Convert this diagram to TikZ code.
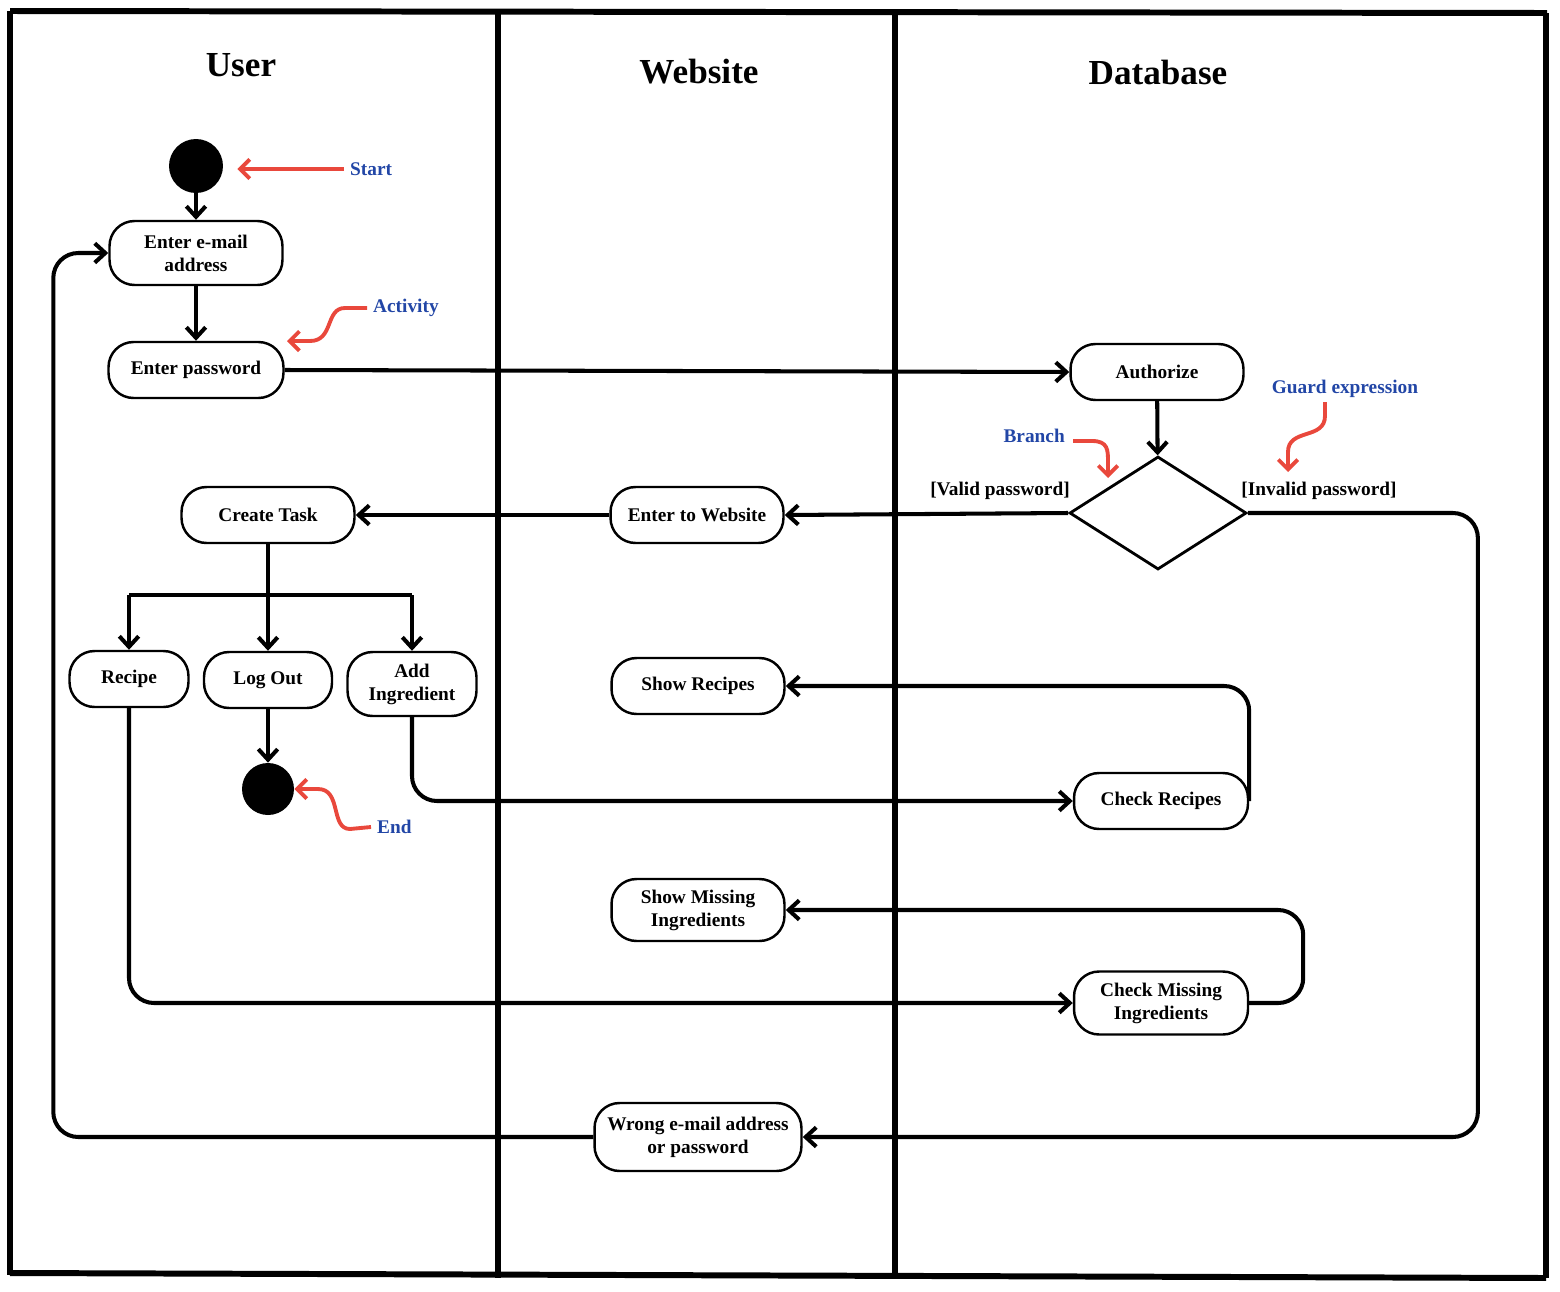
\documentclass[tikz,border=0pt]{standalone}
\usepackage{fontspec}
\setmainfont{Liberation Serif}
\usepackage{xcolor}
\usetikzlibrary{shapes,arrows.meta,positioning,calc}
\definecolor{noteRed}{HTML}{E9483C}
\definecolor{noteBlue}{HTML}{2246A6}

\begin{document}
\begin{tikzpicture}[x=0.02cm, y=-0.02cm,
  act/.style={draw, line width=1.4pt, rounded corners=0.5cm, minimum height=1.12cm,
    align=center, inner sep=2pt, font=\bfseries\fontsize{11}{13}\selectfont},
  flow/.style={line width=2.3pt, rounded corners=0.5cm,
    -{Straight Barb[length=6pt,width=11pt]}},
  note/.style={text=noteBlue, font=\bfseries\fontsize{11}{13}\selectfont},
  noteArrow/.style={draw=noteRed, line width=2.2pt,
    -{Straight Barb[length=5.5pt,width=11pt]}},
  guard/.style={font=\bfseries\fontsize{11}{13}\selectfont},
  lane/.style={line width=3.4pt},
  title/.style={font=\bfseries\fontsize{20}{24}\selectfont}]
\useasboundingbox (0,0) rectangle (1560,1292);

% Swimlanes
\draw[lane] (10,11) -- (1547,13);
\draw[lane] (10,11) -- (10,1275);
\draw[lane] (1546,13) -- (1546,1278);
\draw[lane] (10,1273) -- (1546,1278);
\draw[lane] (498,12) -- (498,1278);
\draw[lane] (895,12) -- (895,1278);
\node[title] (userT) at (241,65) {User};
\node[title] (webT) at (699,72) {Website};
\node[title] (dbT) at (1158,72) {Database};

% User lane
\node[circle, fill=black, minimum size=1.08cm, inner sep=0] (start) at (196,166) {};
\node[act, minimum width=3.46cm, minimum height=1.28cm] (email) at (196,253) {Enter e-mail\\address};
\node[act, minimum width=3.5cm] (pwd) at (196,370) {Enter password};
\node[act, minimum width=3.46cm] (task) at (268,515) {Create Task};
\coordinate (fork) at (268,595);
\node[act, minimum width=2.38cm] (recipe) at (129,679) {Recipe};
\node[act, minimum width=2.56cm] (logout) at (268,680) {Log Out};
\node[act, minimum width=2.58cm, minimum height=1.28cm] (addIng) at (412,684) {Add\\Ingredient};
\node[circle, fill=black, minimum size=1.04cm, inner sep=0] (end) at (268,789) {};

% Website lane
\node[act, minimum width=3.46cm] (enterWeb) at (697,515) {Enter to Website};
\node[act, minimum width=3.46cm] (showRec) at (698,686) {Show Recipes};
\node[act, minimum width=3.46cm, minimum height=1.24cm] (showMiss) at (698,910) {Show Missing\\Ingredients};
\node[act, minimum width=4.14cm, minimum height=1.36cm] (wrong) at (698,1137) {Wrong e-mail address\\or password};

% Database lane
\node[act, minimum width=3.46cm] (auth) at (1157,372) {Authorize};
\node[draw, diamond, line width=1.6pt, aspect=1.57, minimum width=3.54cm, minimum height=2.26cm, inner sep=0] (branch) at (1158,513) {};
\node[act, minimum width=3.48cm] (chkRec) at (1161,801) {Check Recipes};
\node[act, minimum width=3.48cm, minimum height=1.26cm] (chkMiss) at (1161,1003) {Check Missing\\Ingredients};

% Guards
\node[guard] (valid) at (1000,491) {[Valid password]};
\node[guard] (invalid) at (1319,491) {[Invalid password]};

% Flows
\draw[flow] (start) -- (email);
\draw[flow] (email) -- (pwd);
\draw[flow] (pwd.east) -- (auth.west);
\draw[flow] (auth) -- (branch);
\draw[flow] (branch.west) -- (enterWeb.east);
\draw[flow] (enterWeb.west) -- (task.east);
\draw[line width=2.3pt] (task) -- (fork);
\draw[line width=2.3pt] (recipe.north |- fork) -- (addIng.north |- fork);
\draw[flow] (recipe.north |- fork) -- (recipe);
\draw[flow] (fork) -- (logout);
\draw[flow] (addIng.north |- fork) -- (addIng);
\draw[flow] (logout) -- (end);
\draw[flow] (addIng.south) |- (chkRec.west);
\draw[flow] (chkRec.east) -- (chkRec.east |- showRec) -- (showRec.east);
\draw[flow] (recipe.south) |- (chkMiss.west);
\draw[flow] (chkMiss.east) -- ++(54,0) |- (showMiss.east);
\draw[flow] (branch.east) -- ++(230,0) |- (wrong.east);
\draw[flow] (wrong.west) -- ++(-540,0) |- (email.west);

% Notes
\node[note, anchor=west] (startN) at (344,169) {Start};
\draw[noteArrow, shorten >=8pt] (startN.west) -- (start.east |- startN.west);
\node[note, anchor=west] (actN) at (367,308) {Activity};
\draw[noteArrow] (actN.west) -- (345,308) .. controls (325,308) and (334,341) .. (310,341) -- (287,341);
\node[note, anchor=west] (endN) at (371,827) {End};
\draw[noteArrow] (endN.west) -- (350,829) .. controls (330,829) and (342,789) .. (318,789) -- (end.east);
\node[note, anchor=east] (branchN) at (1071,436) {Branch};
\draw[noteArrow] (branchN.east) ++(2,5) -- (1092,441) .. controls (1108,441) and (1108,450) .. (1108,462) -- (1108,478);
\node[note] (guardN) at (1345,389) {Guard expression};
\draw[noteArrow] (1325,402) -- (1325,416) .. controls (1325,440) and (1288,428) .. (1288,452) -- (1288,472);
\end{tikzpicture}
\end{document}
